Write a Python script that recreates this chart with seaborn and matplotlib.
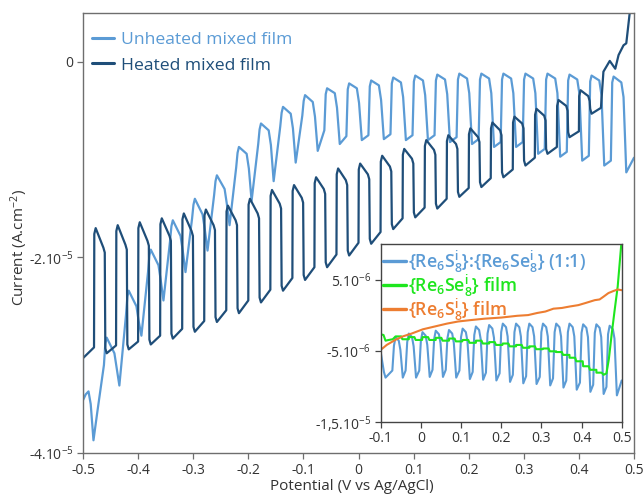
import numpy as np
import pandas as pd
import matplotlib
matplotlib.use("Agg")
import matplotlib.pyplot as plt
import seaborn as sns

SC = 1e-5  # all currents below are in units of 1e-5 A/cm2

# ---------------- main plot: heated mixed film (chopped light) ----------------
heat_on = [-0.48, -0.44, -0.40, -0.36, -0.32, -0.28, -0.24, -0.20, -0.16, -0.12, -0.08, -0.04,
           0.00, 0.04, 0.08, 0.12, 0.16, 0.20, 0.24, 0.28, 0.32, 0.36, 0.40]
heat_off = [-0.46, -0.42, -0.38, -0.34, -0.30, -0.26, -0.22, -0.18, -0.14, -0.10, -0.06, -0.02,
            0.02, 0.06, 0.10, 0.14, 0.18, 0.22, 0.26, 0.30, 0.34, 0.38, 0.42]
heat_peak = [-1.70, -1.67, -1.64, -1.60, -1.55, -1.51, -1.47, -1.40, -1.31, -1.26, -1.18, -1.09,
             -1.04, -0.96, -0.89, -0.80, -0.75, -0.68, -0.62, -0.56, -0.48, -0.39, -0.29]
heat_hi_end = [-1.90, -1.87, -1.83, -1.78, -1.73, -1.67, -1.62, -1.55, -1.45, -1.39, -1.30, -1.21,
               -1.15, -1.07, -0.99, -0.90, -0.84, -0.77, -0.70, -0.63, -0.55, -0.45, -0.35]
heat_lo_min = [-2.98, -2.94, -2.89, -2.83, -2.76, -2.66, -2.57, -2.46, -2.34, -2.23, -2.10, -1.98,
               -1.86, -1.71, -1.59, -1.50, -1.38, -1.28, -1.18, -1.06, -0.94, -0.77, -0.53]
heat_lo_end = [-2.90, -2.86, -2.80, -2.73, -2.65, -2.54, -2.44, -2.33, -2.21, -2.10, -1.97, -1.85,
               -1.74, -1.60, -1.49, -1.40, -1.29, -1.19, -1.10, -0.98, -0.87, -0.71]
heat_head_v = [-0.500, -0.480]
heat_head_i = [-3.03, -2.92]
heat_tail_v = [0.440, 0.4445, 0.456, 0.466, 0.472, 0.481, 0.486, 0.492, 0.496]
heat_tail_i = [-0.47, -0.10, 0.01, -0.07, 0.07, 0.17, 0.19, 0.49, 0.80]

# ---------------- main plot: unheated mixed film ----------------
unh_rise = [-0.46, -0.42, -0.38, -0.34, -0.30, -0.26, -0.22, -0.18, -0.14, -0.10, -0.06, -0.02,
            0.02, 0.06, 0.10, 0.14, 0.18, 0.22, 0.26, 0.30, 0.34, 0.38, 0.42, 0.46]
unh_fall = [-0.44, -0.40, -0.36, -0.32, -0.28, -0.24, -0.20, -0.16, -0.12, -0.08, -0.04, 0.00,
            0.04, 0.08, 0.12, 0.16, 0.20, 0.24, 0.28, 0.32, 0.36, 0.40, 0.44, 0.48]
unh_foot = [-3.10, -2.59, -2.15, -1.83, -1.60, -1.36, -1.08, -0.84, -0.66, -0.55, -0.70, -0.76,
            -0.75, -0.74, -0.75, -0.75, -0.77, -0.79, -0.82, -0.82, -0.89, -0.92, -0.96, -1.01]
unh_peak = [-2.82, -2.34, -1.92, -1.62, -1.40, -1.16, -0.87, -0.63, -0.46, -0.34, -0.27, -0.22,
            -0.19, -0.16, -0.14, -0.13, -0.12, -0.12, -0.12, -0.12, -0.12, -0.13, -0.14, -0.15]
unh_shoulder = [-2.98, -2.50, -2.08, -1.78, -1.56, -1.30, -0.94, -0.70, -0.53, -0.41, -0.32, -0.27,
                -0.24, -0.21, -0.19, -0.18, -0.17, -0.17, -0.17, -0.17, -0.17, -0.18, -0.19, -0.21]
unh_min = [-3.31, -2.80, -2.44, -2.15, -1.93, -1.67, -1.42, -1.22, -1.03, -0.91, -0.84, -0.80,
           -0.79, -0.80, -0.80, -0.82, -0.84, -0.87, -0.87, -0.94, -0.97, -1.01, -1.06, -1.13]
unh_head_v = [-0.500, -0.500, -0.495, -0.490, -0.486, -0.481, -0.474]
unh_head_i = [-2.44, -3.46, -3.40, -3.37, -3.50, -3.87, -3.58]
unh_tail_v = [0.500]
unh_tail_i = [-0.98]

x_ticks = [-0.5, -0.4, -0.3, -0.2, -0.1, 0.0, 0.1, 0.2, 0.3, 0.4, 0.5]
x_tick_labels = ["-0.5", "-0.4", "-0.3", "-0.2", "-0.1", "0", "0.1", "0.2", "0.3", "0.4", "0.5"]
y_ticks = [0.0, -2.0, -4.0]
y_tick_labels = ["0", "-2.10$^{-5}$", "-4.10$^{-5}$"]

# ---------------- inset ----------------
insb_top = [-0.061, -0.028, 0.006, 0.039, 0.072, 0.106, 0.139, 0.172, 0.206, 0.239, 0.272,
            0.306, 0.339, 0.372, 0.406, 0.439, 0.472]
insb_peak = [-0.31, -0.26, -0.24, -0.22, -0.21, -0.19, -0.16, -0.14, -0.12, -0.12, -0.12,
             -0.12, -0.12, -0.12, -0.13, -0.13, -0.15]
insb_min = [-0.88, -0.88, -0.87, -0.87, -0.88, -0.90, -0.91, -0.92, -0.94, -0.96, -0.97,
            -0.99, -1.02, -1.05, -1.08, -1.11, -1.13]
insb_head_v = [-0.100, -0.092, -0.088]
insb_head_i = [-0.52, -0.80, -0.88]
insb_tail_v = [0.500]
insb_tail_i = [-0.92]

green_hi = [-0.30, -0.31, -0.31, -0.32, -0.33, -0.35, -0.36, -0.38, -0.40, -0.42, -0.44,
            -0.47, -0.52, -0.60, -0.72]
green_lo = [-0.34, -0.35, -0.35, -0.36, -0.37, -0.39, -0.40, -0.42, -0.44, -0.46, -0.48,
            -0.51, -0.56, -0.65, -0.77]
green_head_v = [-0.100, -0.093, -0.088, -0.080, -0.070]
green_head_i = [-0.27, -0.28, -0.36, -0.35, -0.34]
green_tail_v = [0.437, 0.450, 0.455, 0.462, 0.468, 0.475, 0.482, 0.490, 0.499]
green_tail_i = [-0.81, -0.81, -0.84, -0.82, -0.62, -0.27, 0.05, 0.40, 1.00]

orange_v = [-0.100, -0.085, -0.064, -0.045, -0.023, 0.005, 0.035, 0.065, 0.093, 0.125, 0.160,
            0.200, 0.240, 0.267, 0.290, 0.310, 0.330, 0.351, 0.370, 0.392, 0.410, 0.433,
            0.445, 0.455, 0.467, 0.480, 0.490, 0.500]
orange_i = [-0.49, -0.42, -0.35, -0.30, -0.26, -0.20, -0.16, -0.12, -0.09, -0.07, -0.05,
            -0.035, -0.01, 0.00, 0.03, 0.05, 0.09, 0.10, 0.12, 0.14, 0.17, 0.21,
            0.22, 0.26, 0.31, 0.34, 0.36, 0.35]

ins_x_ticks = [-0.1, 0.0, 0.1, 0.2, 0.3, 0.4, 0.5]
ins_x_tick_labels = ["-0.1", "0", "0.1", "0.2", "0.3", "0.4", "0.5"]
ins_y_ticks = [0.5, -0.5, -1.5]
ins_y_tick_labels = ["5.10$^{-6}$", "-5.10$^{-6}$", "-1,5.10$^{-5}$"]

# ---------------- build traces ----------------
def build_heated():
    v, i = list(heat_head_v), list(heat_head_i)
    for k in range(len(heat_on)):
        on, off = heat_on[k], heat_off[k]
        if k > 0:
            v.append(on)
            i.append(heat_lo_end[k - 1])
        v += [on + 0.0005, on + 0.003, off - 0.003, off - 0.0005, off + 0.0005, off + 0.003]
        i += [heat_peak[k] - 0.06, heat_peak[k], heat_hi_end[k], heat_hi_end[k] - 0.05,
              heat_lo_min[k] + 0.05, heat_lo_min[k]]
    v += heat_tail_v
    i += heat_tail_i
    return v, i


def build_unheated():
    v, i = list(unh_head_v), list(unh_head_i)
    for m in range(len(unh_rise)):
        r, f = unh_rise[m], unh_fall[m]
        v += [r - 0.002, r + 0.0005, r + 0.003, f - 0.003, f + 0.001, f + 0.006]
        i += [unh_foot[m], unh_peak[m] - 0.06, unh_peak[m], unh_shoulder[m],
              unh_shoulder[m] - 0.15, unh_min[m]]
    v += unh_tail_v
    i += unh_tail_i
    return v, i


def build_inset_blue():
    v, i = list(insb_head_v), list(insb_head_i)
    prev = insb_head_i[-1]
    for j, t in enumerate(insb_top):
        v += [t - 0.010, t - 0.006, t - 0.002, t + 0.006, t + 0.010, t + 0.016]
        i += [prev + 0.10, insb_peak[j] - 0.12, insb_peak[j], insb_peak[j] - 0.05,
              insb_peak[j] - 0.18, insb_min[j]]
        prev = insb_min[j]
    v += insb_tail_v
    i += insb_tail_i
    return v, i


def build_green():
    v, i = list(green_head_v), list(green_head_i)
    for j in range(len(green_hi)):
        t = insb_top[j]
        v += [t - 0.002, t + 0.012, t + 0.015, t + 0.031]
        i += [green_hi[j], green_hi[j], green_lo[j], green_lo[j]]
    v += green_tail_v
    i += green_tail_i
    return v, i


hv, hi = build_heated()
uv, ui = build_unheated()
bv, bi = build_inset_blue()
gv, gi = build_green()

df_heat = pd.DataFrame({"V": hv, "I": np.array(hi) * SC})
df_unh = pd.DataFrame({"V": uv, "I": np.array(ui) * SC})
df_b = pd.DataFrame({"V": bv, "I": np.array(bi) * SC})
df_g = pd.DataFrame({"V": gv, "I": np.array(gi) * SC})
df_o = pd.DataFrame({"V": orange_v, "I": np.array(orange_i) * SC})

# ---------------- styling ----------------
sns.set_theme(style="white")
plt.rcParams["font.family"] = ["Open Sans", "DejaVu Sans"]
plt.rcParams["mathtext.default"] = "regular"
plt.rcParams["axes.unicode_minus"] = False

C_UNH = "#5B9BD5"
C_HEAT = "#1F4E79"
C_BLUE = "#5B9BD5"
C_GREEN = "#1EE61E"
C_ORANGE = "#ED7D31"
SPINE = "#6E6E6E"
TXT = "#333333"

fig = plt.figure(figsize=(6.44, 4.98), dpi=100)
ax = fig.add_axes([83 / 644, 45 / 498, 551 / 644, 440 / 498])

sns.lineplot(data=df_unh, x="V", y="I", sort=False, estimator=None, color=C_UNH, lw=1.6,
             ax=ax, label="Unheated mixed film")
sns.lineplot(data=df_heat, x="V", y="I", sort=False, estimator=None, color=C_HEAT, lw=1.6,
             ax=ax, label="Heated mixed film")

ax.set_xlim(-0.5, 0.5)
ax.set_ylim(-4.0e-5, 0.5e-5)
ax.set_xticks(x_ticks)
ax.set_xticklabels(x_tick_labels)
ax.set_yticks([t * SC for t in y_ticks])
ax.set_yticklabels(y_tick_labels)
ax.tick_params(axis="both", which="both", bottom=True, left=True, direction="out", length=4,
               width=0.9, color=SPINE, labelsize=10, labelcolor=TXT, pad=3)
for s in ax.spines.values():
    s.set_color(SPINE)
    s.set_linewidth(1.0)
ax.set_xlabel("Potential (V vs Ag/AgCl)", fontsize=11, color=TXT)
ax.set_ylabel("Current (A.cm$^{-2}$)", fontsize=11, color=TXT)
ax.xaxis.set_label_coords(0.488, -0.060)
ax.yaxis.set_label_coords(-0.096, 0.468)

leg = ax.legend(loc="upper left", bbox_to_anchor=(9 / 551, 0.958), frameon=False, fontsize=12.6,
                handlelength=1.25, handletextpad=0.42, labelspacing=0.55, borderaxespad=0,
                borderpad=0, labelcolor="linecolor")
for line in leg.get_lines():
    line.set_linewidth(2.2)

# ---------------- inset ----------------
axi = fig.add_axes([380.7 / 644, 76.3 / 498, 241 / 644, 177.7 / 498])
axi.set_facecolor("white")
sns.lineplot(data=df_b, x="V", y="I", sort=False, estimator=None, color=C_BLUE, lw=1.5, ax=axi,
             label=r"{Re$_6$S$^i_8$}:{Re$_6$Se$^i_8$} (1:1)")
sns.lineplot(data=df_g, x="V", y="I", sort=False, estimator=None, color=C_GREEN, lw=1.5, ax=axi,
             label=r"{Re$_6$Se$^i_8$} film")
sns.lineplot(data=df_o, x="V", y="I", sort=False, estimator=None, color=C_ORANGE, lw=1.5, ax=axi,
             label=r"{Re$_6$S$^i_8$} film")
axi.set_xlim(-0.1, 0.5)
axi.set_ylim(-1.5e-5, 1.0e-5)
axi.set_xticks(ins_x_ticks)
axi.set_xticklabels(ins_x_tick_labels)
axi.set_yticks([t * SC for t in ins_y_ticks])
axi.set_yticklabels(ins_y_tick_labels)
axi.tick_params(axis="both", which="both", bottom=True, left=True, direction="out", length=4,
                width=0.9, color="#444444", labelsize=10, labelcolor=TXT, pad=3)
for s in axi.spines.values():
    s.set_color("#444444")
    s.set_linewidth(1.0)
axi.set_xlabel("")
axi.set_ylabel("")
lgi = axi.legend(loc="upper left", bbox_to_anchor=(0.008, 0.975), frameon=False,
                 prop={"size": 12.8, "weight": "semibold"}, handlelength=1.3,
                 handletextpad=0.12, labelspacing=-0.12, borderaxespad=0, borderpad=0,
                 labelcolor="linecolor")
for line in lgi.get_lines():
    line.set_linewidth(2.4)

fig.savefig("out.png", dpi=100)
